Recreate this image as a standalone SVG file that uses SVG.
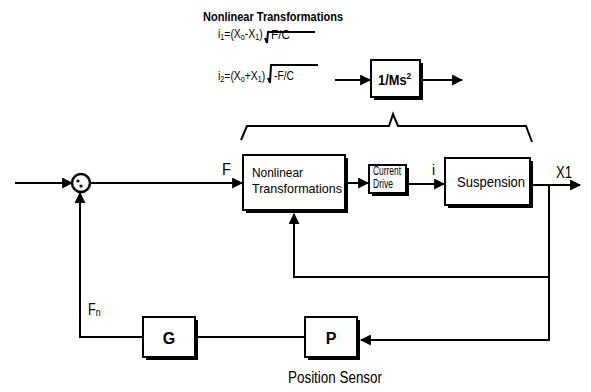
<svg xmlns="http://www.w3.org/2000/svg" width="591" height="392" viewBox="0 0 591 392">
  <defs>
    <marker id="arr" viewBox="0 0 10 10" refX="9" refY="5" markerWidth="11" markerHeight="11" markerUnits="userSpaceOnUse" orient="auto">
      <path d="M0,0 L10,5 L0,10 z" fill="#000"/>
    </marker>
    <style>
      .ln { stroke: #000; stroke-width: 2; fill: none; }
      .box { fill: #fff; stroke: #000; stroke-width: 2; }
      .sh { fill: #000; }
      .t { font-family: "Liberation Sans", Arial, sans-serif; fill: #000; }
      .b { font-weight: bold; }
    </style>
  </defs>

  <rect width="591" height="392" fill="#fff"/>

  <!-- Equations above the loop (condensed via horizontal scale) -->
  <g id="equations">
    <text class="t b" x="203" y="21" font-size="12.5" textLength="140" lengthAdjust="spacingAndGlyphs">Nonlinear Transformations</text>
    <text class="t" transform="translate(218,38) scale(0.8,1)" font-size="13">i<tspan font-size="9" dy="2">1</tspan><tspan dy="-2">=(X</tspan><tspan font-size="9" dy="2">o</tspan><tspan dy="-2">-X</tspan><tspan font-size="9" dy="2">1</tspan><tspan dy="-2">)</tspan></text>
    <path class="ln" stroke-width="1.5" d="M265,38 L267,43 L268,32 L315,32"/>
    <text class="t" x="271" y="39" font-size="12.5" textLength="19" lengthAdjust="spacingAndGlyphs">F/C</text>
    <text class="t" transform="translate(218,80) scale(0.8,1)" font-size="13">i<tspan font-size="9" dy="2">2</tspan><tspan dy="-2">=(X</tspan><tspan font-size="9" dy="2">o</tspan><tspan dy="-2">+X</tspan><tspan font-size="9" dy="2">1</tspan><tspan dy="-2">)</tspan></text>
    <path class="ln" stroke-width="1.5" d="M268,78 L270,83 L271,65 L318,65"/>
    <text class="t" x="274" y="80" font-size="12.5" textLength="20" lengthAdjust="spacingAndGlyphs">-F/C</text>
  </g>

  <g id="plant">
    <rect class="sh" x="374" y="63" width="49" height="37"/>
    <rect class="box" x="371" y="60" width="49" height="37"/>
    <text class="t b" transform="translate(378,85) scale(0.92,1)" font-size="14">1/Ms<tspan font-size="9" dy="-6">2</tspan></text>
  </g>

  <!-- Brace grouping the three loop blocks -->
  <g id="brace">
    <path class="ln" d="M241,140 L247,126 L389,126 L393,114 L398,126 L526,126 L532,142"/>
  </g>

  <g id="sum">
    <circle cx="81" cy="183" r="9" fill="#fff" stroke="#000" stroke-width="2.5"/>
    <circle cx="78" cy="181" r="1.6" fill="#000"/>
    <circle cx="81" cy="186" r="1.6" fill="#000"/>
  </g>

  <g id="nonlinear">
    <rect class="sh" x="246" y="158" width="102" height="55"/>
    <rect class="box" x="243" y="155" width="102" height="55"/>
    <text class="t" x="252" y="177" font-size="12.5" textLength="51" lengthAdjust="spacingAndGlyphs">Nonlinear</text>
    <text class="t" x="252" y="193" font-size="13.5" textLength="90" lengthAdjust="spacingAndGlyphs">Transformations</text>
  </g>

  <g id="current">
    <rect class="sh" x="372" y="168" width="37" height="28"/>
    <rect class="box" x="369" y="165" width="37" height="28"/>
    <text class="t" x="373" y="175" font-size="12.5" textLength="28" lengthAdjust="spacingAndGlyphs">Current</text>
    <text class="t" x="373" y="188" font-size="12.5" textLength="20" lengthAdjust="spacingAndGlyphs">Drive</text>
  </g>

  <g id="suspension">
    <rect class="sh" x="448" y="161" width="85" height="47"/>
    <rect class="box" x="445" y="158" width="85" height="47"/>
    <text class="t" x="457" y="187" font-size="14.5" textLength="68" lengthAdjust="spacingAndGlyphs">Suspension</text>
  </g>

  <g id="gain">
    <rect class="sh" x="146" y="320" width="52" height="40"/>
    <rect class="box" x="143" y="317" width="52" height="40"/>
    <text class="t b" x="169" y="344" font-size="16" text-anchor="middle">G</text>
  </g>

  <g id="sensor">
    <rect class="sh" x="308" y="320" width="52" height="40"/>
    <rect class="box" x="305" y="317" width="52" height="40"/>
    <text class="t b" x="331" y="344" font-size="16" text-anchor="middle">P</text>
    <text class="t" x="288" y="383" font-size="16" textLength="94" lengthAdjust="spacingAndGlyphs">Position Sensor</text>
  </g>

  <g id="connectors">
    <line class="ln" x1="335" y1="80" x2="370" y2="80" marker-end="url(#arr)"/>
    <line class="ln" x1="420" y1="80" x2="462" y2="80" marker-end="url(#arr)"/>
    <line class="ln" x1="15" y1="183" x2="72" y2="183" marker-end="url(#arr)"/>
    <line class="ln" x1="90" y1="183" x2="242" y2="183" marker-end="url(#arr)"/>
    <line class="ln" x1="348" y1="183" x2="368" y2="183" marker-end="url(#arr)"/>
    <line class="ln" x1="409" y1="184" x2="444" y2="184" marker-end="url(#arr)"/>
    <line class="ln" x1="533" y1="185" x2="580" y2="185" marker-end="url(#arr)"/>
    <polyline class="ln" points="549,185 549,340 361,340" marker-end="url(#arr)"/>
    <polyline class="ln" points="549,277 294,277 294,214" marker-end="url(#arr)"/>
    <line class="ln" x1="305" y1="337" x2="198" y2="337"/>
    <polyline class="ln" points="143,337 80,337 80,193" marker-end="url(#arr)"/>
  </g>

  <g id="labels">
    <text class="t" x="222" y="175" font-size="16" textLength="9" lengthAdjust="spacingAndGlyphs">F</text>
    <text class="t" x="432" y="175" font-size="14">i</text>
    <text class="t" x="556" y="178" font-size="17" textLength="16" lengthAdjust="spacingAndGlyphs">X1</text>
    <text class="t" transform="translate(88,315) scale(0.8,1)" font-size="16">F<tspan font-size="11" dy="1">n</tspan></text>
  </g>
</svg>
